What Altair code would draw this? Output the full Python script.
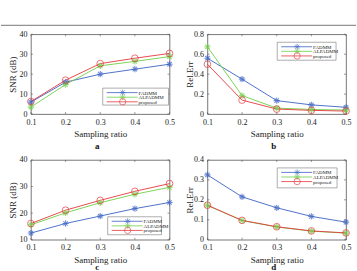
import altair as alt
import pandas as pd

ratio = [0.1, 0.2, 0.3, 0.4, 0.5]
series_names = ["FADMM", "ALPADMM", "proposed"]
colors = ["#3b62c4", "#6fcf46", "#e5383d"]

a_fadmm = [6.0, 16.0, 20.0, 22.5, 25.0]
a_alpadmm = [3.5, 14.8, 24.2, 26.4, 28.8]
a_proposed = [6.3, 17.0, 25.3, 28.0, 30.4]

b_fadmm = [0.56, 0.35, 0.135, 0.092, 0.068]
b_alpadmm = [0.675, 0.185, 0.06, 0.046, 0.04]
b_proposed = [0.50, 0.14, 0.05, 0.037, 0.03]

c_fadmm = [12.5, 16.1, 18.9, 21.7, 24.0]
c_alpadmm = [15.6, 20.1, 23.9, 27.1, 29.7]
c_proposed = [16.1, 21.1, 24.8, 28.2, 31.1]

d_fadmm = [0.325, 0.215, 0.16, 0.117, 0.088]
d_alpadmm = [0.172, 0.096, 0.064, 0.043, 0.033]
d_proposed = [0.173, 0.097, 0.065, 0.044, 0.034]

snr_ticks_a = [0, 10, 20, 30, 40]
err_ticks_b = [0, 0.2, 0.4, 0.6, 0.8]
snr_ticks_c = [10, 20, 30, 40]
err_ticks_d = [0, 0.1, 0.2, 0.3, 0.4]

FONT = "Liberation Serif"
W, H = 139, 80
ASTERISK = "M-1,0L1,0M0,-1L0,1M-0.7,-0.7L0.7,0.7M-0.7,0.7L0.7,-0.7"
TICK_COLOR = "#555"


def long_df(f, a, p):
    rows = []
    for name, vals in zip(series_names, [f, a, p]):
        for r, v in zip(ratio, vals):
            rows.append({"ratio": r, "value": v, "series": name})
    return pd.DataFrame(rows)


one = pd.DataFrame({"k": [0]})


def legend_layers(x0, y0, bw=62, bh=18):
    layers = [
        alt.Chart(one).mark_rect(fill="white", stroke="#777", strokeWidth=0.6).encode(
            x=alt.value(x0), x2=alt.value(x0 + bw), y=alt.value(y0), y2=alt.value(y0 + bh)
        )
    ]
    for i, (name, col) in enumerate(zip(series_names, colors)):
        yy = y0 + 4.5 + i * 4.6
        layers.append(
            alt.Chart(one).mark_rule(color=col, strokeWidth=0.8).encode(
                x=alt.value(x0 + 4), x2=alt.value(x0 + 35), y=alt.value(yy)
            )
        )
        if name == "proposed":
            layers.append(
                alt.Chart(one).mark_point(shape="circle", size=40, filled=False, color=col, strokeWidth=0.9).encode(
                    x=alt.value(x0 + 20), y=alt.value(yy)
                )
            )
        else:
            layers.append(
                alt.Chart(one).mark_point(shape=ASTERISK, size=36, filled=False, color=col, strokeWidth=0.9).encode(
                    x=alt.value(x0 + 20), y=alt.value(yy)
                )
            )
        layers.append(
            alt.Chart(one).mark_text(font=FONT, fontSize=5, align="left", baseline="middle", color="#222").encode(
                x=alt.value(x0 + 36), y=alt.value(yy), text=alt.value(name)
            )
        )
    return layers


def panel(df, ydomain, yticks, ytitle, letter, leg, letter_dy, topline=False):
    xscale = alt.Scale(domain=[0.1, 0.5], nice=False, zero=False)
    yscale = alt.Scale(domain=ydomain, nice=False, zero=False)
    xaxis = alt.Axis(
        values=ratio, format=".1f", title="Sampling ratio", ticks=False, domain=False,
        grid=False, labelPadding=4, labelFontSize=8, labelFont=FONT, labelColor="#222",
        labelOverlap=False, labelFlush=False,
        titleFont=FONT, titleFontSize=9, titleFontWeight="normal", titleColor="#222",
        titleY=20, titleBaseline="middle",
    )
    yaxis = alt.Axis(
        values=yticks, format="~f", title=ytitle, ticks=False, domain=False, grid=False,
        labelPadding=4, labelFontSize=8, labelFont=FONT, labelColor="#222",
        labelOverlap=False, labelFlush=False,
        titleFont=FONT, titleFontSize=9, titleFontWeight="normal", titleColor="#222",
        titleX=-18, titleY=H / 2, titleAngle=270, titleAlign="center", titleBaseline="middle",
    )
    base = alt.Chart(df).encode(
        x=alt.X("ratio:Q", scale=xscale, axis=xaxis),
        y=alt.Y("value:Q", scale=yscale, axis=yaxis),
        color=alt.Color("series:N", scale=alt.Scale(domain=series_names, range=colors), legend=None),
    )
    xt = pd.DataFrame({"ratio": ratio})
    yt = pd.DataFrame({"value": yticks})
    tick_layers = [
        alt.Chart(xt).mark_rule(color=TICK_COLOR, strokeWidth=0.6).encode(
            x=alt.X("ratio:Q", scale=xscale, axis=xaxis), y=alt.value(H), y2=alt.value(H - 2)),
        alt.Chart(xt).mark_rule(color=TICK_COLOR, strokeWidth=0.6).encode(
            x=alt.X("ratio:Q", scale=xscale, axis=xaxis), y=alt.value(0), y2=alt.value(2)),
        alt.Chart(yt).mark_rule(color=TICK_COLOR, strokeWidth=0.6).encode(
            y=alt.Y("value:Q", scale=yscale, axis=yaxis), x=alt.value(0), x2=alt.value(2)),
        alt.Chart(yt).mark_rule(color=TICK_COLOR, strokeWidth=0.6).encode(
            y=alt.Y("value:Q", scale=yscale, axis=yaxis), x=alt.value(W - 2), x2=alt.value(W)),
    ]
    lines = base.mark_line(strokeWidth=0.9)
    stars = base.transform_filter(alt.datum.series != "proposed").mark_point(
        shape=ASTERISK, size=40, filled=False, strokeWidth=1.1
    )
    circles = base.transform_filter(alt.datum.series == "proposed").mark_point(
        shape="circle", size=45, filled=False, strokeWidth=1
    )
    layers = [lines] + tick_layers + [stars, circles] + legend_layers(*leg)
    layers.append(
        alt.Chart(one).mark_text(font=FONT, fontSize=9, fontWeight="bold", baseline="middle", color="#111").encode(
            x=alt.value(W / 2 - 3), y=alt.value(H + letter_dy), text=alt.value(letter)
        )
    )
    if topline:
        layers.append(
            alt.Chart(one).mark_rule(color="#555", strokeWidth=0.8).encode(
                x=alt.value(-30), x2=alt.value(326), y=alt.value(-9)
            )
        )
    return alt.layer(*layers).properties(width=W, height=H)


pa = panel(long_df(a_fadmm, a_alpadmm, a_proposed), [0, 40], snr_ticks_a, "SNR (dB)", "a", (72, 54, 66, 17), 32, True)
pb = panel(long_df(b_fadmm, b_alpadmm, b_proposed), [0, 0.8], err_ticks_b, "Rel.Err", "b", (70, 8, 59, 18), 32)
pc = panel(long_df(c_fadmm, c_alpadmm, c_proposed), [10, 40], snr_ticks_c, "SNR (dB)", "c", (77, 57, 54, 18), 27)
pd_ = panel(long_df(d_fadmm, d_alpadmm, d_proposed), [0, 0.4], err_ticks_d, "Rel.Err", "d", (70, 8, 60, 20), 27)

chart = alt.concat(
    pa, pb, pc, pd_, columns=2, spacing={"row": 46, "column": 38}, bounds="flush"
).properties(
    padding={"left": 0, "top": 24, "right": 0, "bottom": 0},
    background="white",
).configure_view(stroke="#555", strokeWidth=0.8)

chart.save("out.html", embed_options={"renderer": "svg", "actions": False})
